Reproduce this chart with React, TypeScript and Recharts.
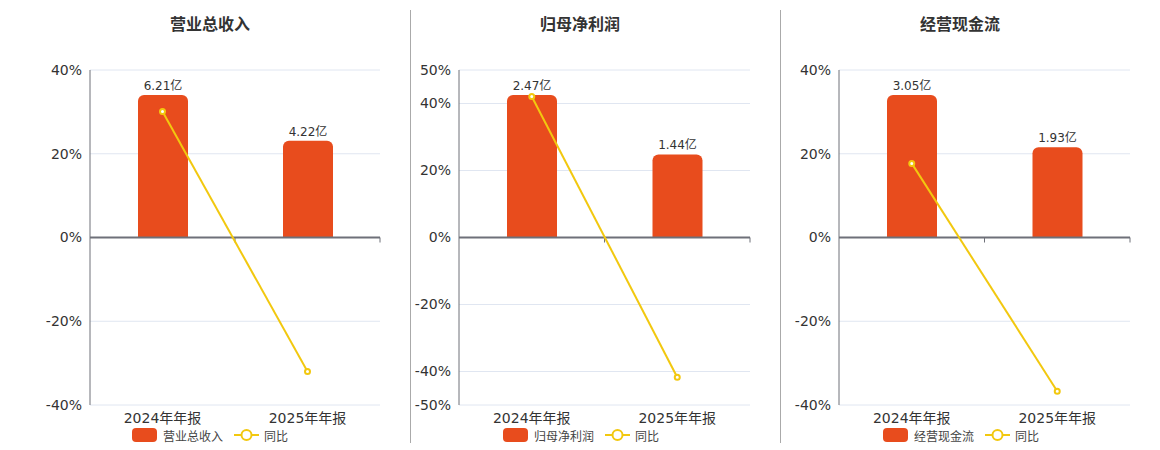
import { ComposedChart, Bar, Line, XAxis, YAxis, CartesianGrid, ReferenceLine, LabelList, Legend } from 'recharts';

const periods = ['2024年年报', '2025年年报'];

const revenue = [6.21, 4.22];
const revenueYoy = [30.1, -32.0];

const netProfit = [2.47, 1.44];
const netProfitYoy = [42.1, -41.7];

const cashFlow = [3.05, 1.93];
const cashFlowYoy = [17.7, -36.7];

const ticks40 = [-40, -20, 0, 20, 40];
const ticks50 = [-50, -40, -20, 0, 20, 40, 50];

const BAR = '#e84c1d';
const LINE = '#f2c80f';
const AXIS = '#6e7079';
const FONT = '"DejaVu Sans", "Noto Sans CJK SC", sans-serif';

const panels = [
  { title: '营业总收入', amounts: revenue, yoy: revenueYoy, ticks: ticks40, left: 0, width: 410, axisWidth: 90, legendLeft: 132, titleCenter: 210 },
  { title: '归母净利润', amounts: netProfit, yoy: netProfitYoy, ticks: ticks50, left: 410, width: 370, axisWidth: 49, legendLeft: 93, titleCenter: 580 },
  { title: '经营现金流', amounts: cashFlow, yoy: cashFlowYoy, ticks: ticks40, left: 780, width: 380, axisWidth: 59, legendLeft: 103, titleCenter: 960 },
];

const LegendBox = ({ name }: { name: string }) => (
  <div style={{ display: 'flex', alignItems: 'center', height: 20, fontFamily: FONT, fontSize: 12, color: '#444' }}>
    <span style={{ display: 'inline-block', width: 25, height: 14, borderRadius: 4, background: BAR, marginRight: 6 }} />
    <span>{name}</span>
    <svg width={25} height={14} style={{ marginLeft: 11, marginRight: 5 }}>
      <line x1={0} y1={7} x2={25} y2={7} stroke={LINE} strokeWidth={2} />
      <circle cx={12.5} cy={7} r={5} fill="#fff" stroke={LINE} strokeWidth={2} />
    </svg>
    <span>同比</span>
  </div>
);

// zero line acting as the category axis, with small ticks at category boundaries
const ZeroAxis = (props: any) => {
  const { x1, y1, x2 } = props;
  const mid = (x1 + x2) / 2;
  return (
    <g>
      <line x1={x1} y1={y1} x2={x2} y2={y1} stroke={AXIS} strokeWidth={2} />
      <line x1={mid} y1={y1} x2={mid} y2={y1 + 5} stroke={AXIS} strokeWidth={1} />
      <line x1={x2} y1={y1} x2={x2} y2={y1 + 5} stroke={AXIS} strokeWidth={1} />
    </g>
  );
};

function Panel({ p }: { p: (typeof panels)[number] }) {
  const data = periods.map((name, i) => ({ name, amt: p.amounts[i], yoy: p.yoy[i] }));
  const maxPct = p.ticks[p.ticks.length - 1];
  const amtMax = Math.max(...p.amounts) * 1.175;

  return (
    <div style={{ position: 'absolute', left: p.left, top: 0, width: p.width, height: 450 }}>
      <ComposedChart width={p.width} height={450} data={data} margin={{ top: 70, right: 30, bottom: 5, left: 0 }}>
        <CartesianGrid yAxisId="pct" vertical={false} stroke="#e0e6f1" />
        <XAxis dataKey="name" axisLine={false} tickLine={false} height={20} tick={{ fontSize: 14, fill: '#333', fontFamily: FONT }} />
        <YAxis
          yAxisId="pct"
          width={p.axisWidth}
          domain={[-maxPct, maxPct]}
          ticks={p.ticks}
          interval={0}
          tickFormatter={(v: number) => `${v}%`}
          axisLine={{ stroke: AXIS }}
          tickLine={false}
          tick={{ fontSize: 14, fill: '#333', fontFamily: FONT }}
        />
        <YAxis yAxisId="amt" orientation="right" width={0} hide domain={[-amtMax, amtMax]} />
        <ReferenceLine yAxisId="pct" y={0} shape={ZeroAxis} />
        <Bar yAxisId="amt" dataKey="amt" fill={BAR} barSize={50} radius={[6, 6, 0, 0]} isAnimationActive={false}>
          <LabelList
            dataKey="amt"
            position="top"
            offset={5}
            formatter={(v: number) => `${v.toFixed(2)}亿`}
            style={{ fontSize: 12, fill: '#333', fontFamily: FONT }}
          />
        </Bar>
        <Line
          yAxisId="pct"
          dataKey="yoy"
          stroke={LINE}
          strokeWidth={2}
          dot={{ r: 2.5, fill: '#fff', stroke: LINE, strokeWidth: 2 }}
          isAnimationActive={false}
        />
        <Legend
          verticalAlign="bottom"
          content={() => <LegendBox name={p.title} />}
          wrapperStyle={{ left: p.legendLeft, width: 'auto', height: 20 }}
        />
      </ComposedChart>
      <div
        style={{
          position: 'absolute',
          top: 11,
          left: p.titleCenter - p.left - 100,
          width: 200,
          textAlign: 'center',
          fontFamily: FONT,
          fontSize: 16,
          fontWeight: 'bold',
          color: '#333',
        }}
      >
        {p.title}
      </div>
    </div>
  );
}

export default function App() {
  return (
    <div style={{ position: 'absolute', left: 0, top: 0, width: 1160, height: 450, background: '#fff' }}>
      {panels.map(p => (
        <Panel key={p.title} p={p} />
      ))}
      <div style={{ position: 'absolute', left: 410, top: 10, width: 1, height: 433, background: '#aaa' }} />
      <div style={{ position: 'absolute', left: 780, top: 10, width: 1, height: 433, background: '#aaa' }} />
    </div>
  );
}
